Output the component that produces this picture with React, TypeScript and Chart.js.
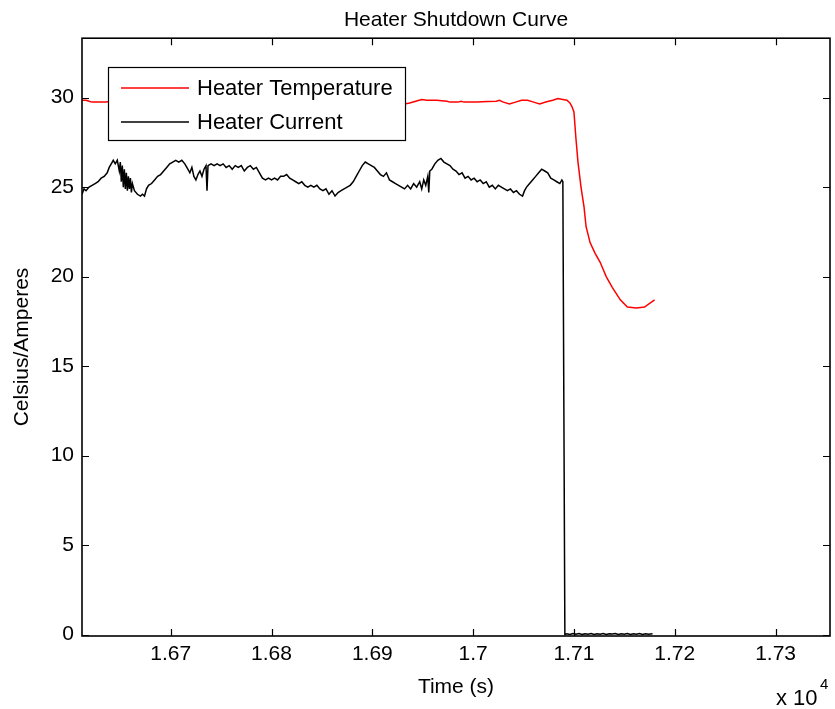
import React, { useEffect, useRef } from 'react';
import { Chart, registerables } from 'chart.js';

Chart.register(...registerables);

const chartTitle = 'Heater Shutdown Curve';
const xAxisTitle = 'Time (s)';
const yAxisTitle = 'Celsius/Amperes';
const seriesLabels = ['Heater Temperature', 'Heater Current'];
const seriesColors = ['#ff0000', '#000000'];

const xTickValues = [16700, 16800, 16900, 17000, 17100, 17200, 17300];
const xTickLabels = ['1.67', '1.68', '1.69', '1.7', '1.71', '1.72', '1.73'];
const yTickValues = [0, 5, 10, 15, 20, 25, 30];
const xExponentBase = 'x 10';
const xExponent = '4';

const X_MIN = 16612;
const X_MAX = 17354;
const Y_MIN = -0.08;
const Y_MAX = 33.32;

const tempTimes = [
  16612, 16616, 16619, 16622, 16636, 16640, 16660, 16680, 16700, 16720,
  16740, 16760, 16780, 16800, 16820, 16840, 16860, 16880, 16900, 16920,
  16932, 16937, 16943, 16949, 16954, 16964, 16974, 16977, 16985, 16988,
  16991, 17004, 17014, 17023, 17026, 17030, 17036, 17042, 17048, 17054,
  17060, 17066, 17072, 17079, 17084, 17089, 17093, 17096, 17098, 17100,
  17102, 17104, 17107, 17110, 17112, 17116, 17121, 17126, 17132, 17138,
  17146, 17153, 17162, 17170, 17180,
];
const tempValues = [
  29.85, 29.85, 29.8, 29.75, 29.75, 29.8, 29.8, 29.85, 29.8, 29.8,
  29.85, 29.8, 29.8, 29.85, 29.8, 29.8, 29.75, 29.75, 29.75, 29.7,
  29.65, 29.7, 29.8, 29.9, 29.85, 29.85, 29.8, 29.75, 29.75, 29.8,
  29.75, 29.75, 29.78, 29.8, 29.85, 29.75, 29.65, 29.75, 29.85, 29.85,
  29.75, 29.65, 29.75, 29.85, 29.95, 29.9, 29.85, 29.7, 29.5, 29.2,
  27.7, 26.4, 25.0, 23.9, 22.8, 21.9, 21.3, 20.8, 20.0, 19.4,
  18.7, 18.3, 18.25, 18.3, 18.7,
];

const currentTimes = [
  16612, 16614, 16616, 16619, 16622, 16625, 16628, 16631, 16634, 16637,
  16639, 16641, 16643, 16645, 16647, 16649, 16650, 16651, 16652, 16653,
  16654, 16655, 16656, 16657, 16658, 16659, 16660, 16661, 16662, 16664,
  16667, 16670, 16672, 16674, 16676, 16678, 16681, 16684, 16687, 16690,
  16693, 16696, 16699, 16702, 16705, 16708, 16711, 16714, 16717, 16719,
  16721, 16723, 16725, 16727, 16729, 16731, 16733, 16735, 16736, 16737,
  16740, 16743, 16746, 16749, 16752, 16755, 16758, 16761, 16764, 16767,
  16770, 16773, 16776, 16779, 16782, 16785, 16788, 16791, 16794, 16797,
  16800, 16803, 16806, 16809, 16812, 16815, 16818, 16821, 16824, 16827,
  16830, 16833, 16836, 16839, 16842, 16845, 16848, 16851, 16854, 16857,
  16860, 16863, 16866, 16869, 16872, 16875, 16878, 16881, 16884, 16887,
  16890, 16893, 16896, 16899, 16902, 16905, 16908, 16911, 16914, 16917,
  16920, 16923, 16926, 16929, 16932, 16935, 16938, 16941, 16944, 16947,
  16949, 16951, 16953, 16955, 16956, 16957, 16959, 16962, 16965, 16968,
  16971, 16974, 16977, 16980, 16983, 16986, 16989, 16992, 16995, 16998,
  17001, 17004, 17007, 17010, 17013, 17016, 17019, 17022, 17025, 17028,
  17031, 17034, 17037, 17040, 17043, 17046, 17049, 17051, 17053, 17056,
  17059, 17062, 17065, 17068, 17071, 17074, 17077, 17080, 17083, 17086,
  17088, 17089, 17090, 17091, 17093, 17096, 17099, 17102, 17105, 17108,
  17111, 17114, 17117, 17120, 17123, 17126, 17129, 17132, 17135, 17138,
  17141, 17144, 17147, 17150, 17153, 17156, 17159, 17162, 17165, 17168,
  17171, 17174, 17178,
];
const currentValues = [
  24.6, 24.9, 24.8, 25.0, 25.1, 25.2, 25.3, 25.5, 25.6, 25.8,
  26.1, 26.3, 26.5, 26.3, 26.5, 25.9, 26.4, 25.3, 26.2, 25.0,
  26.0, 24.9, 25.8, 24.8, 25.6, 24.9, 25.5, 24.7, 25.2, 24.8,
  24.6, 24.5, 24.6, 24.5, 24.9, 25.1, 25.2, 25.4, 25.6, 25.7,
  25.9, 26.1, 26.3, 26.4, 26.5, 26.4, 26.5, 26.3, 26.0, 25.8,
  26.1, 25.6, 25.4, 25.7, 25.9, 25.6, 26.0, 26.2, 24.8, 26.2,
  26.3, 26.2, 26.3, 26.2, 26.3, 26.1, 26.2, 26.0, 26.2, 26.1,
  26.2, 25.9, 26.1, 26.2, 26.0, 26.1, 25.8, 25.5, 25.4, 25.5,
  25.4, 25.5, 25.4, 25.6, 25.6, 25.7, 25.5, 25.4, 25.3, 25.2,
  25.3, 25.1, 25.0, 25.1, 25.0, 25.1, 24.9, 24.8, 24.9, 24.6,
  24.8, 24.5, 24.7, 24.8, 24.9, 25.0, 25.1, 25.3, 25.6, 25.9,
  26.2, 26.4, 26.3, 26.2, 26.1, 25.9, 25.7, 25.6, 25.8, 25.4,
  25.3, 25.2, 25.1, 25.0, 24.9, 25.1, 24.9, 25.2, 25.0, 25.3,
  24.9, 25.4, 25.1, 25.6, 24.7, 25.9, 26.0, 26.3, 26.5, 26.6,
  26.4, 26.3, 26.2, 26.0, 25.9, 25.7, 25.8, 25.5, 25.6, 25.4,
  25.5, 25.3, 25.4, 25.2, 25.3, 25.0, 25.1, 24.9, 25.1, 25.0,
  24.9, 24.8, 24.9, 24.7, 24.8, 24.6, 24.5, 24.8, 25.0, 25.2,
  25.4, 25.6, 25.8, 26.0, 25.9, 25.8, 25.5, 25.4, 25.3, 25.2,
  25.4, 25.3, 12.7, 0.0, 0.05, 0.0, 0.06, 0.02, 0.06, 0.0,
  0.05, 0.02, 0.06, 0.0, 0.05, 0.02, 0.06, 0.0, 0.05, 0.03,
  0.06, 0.0, 0.05, 0.02, 0.06, 0.0, 0.05, 0.02, 0.06, 0.0,
  0.05, 0.02, 0.04,
];

const FONT = "'Liberation Sans', Arial, Helvetica, sans-serif";

const matlabFrame = {
  id: 'matlabFrame',
  afterDatasetsDraw(chart: any) {
    const { ctx, chartArea: a, scales } = chart;
    const xs = scales.x;
    const ys = scales.y;
    ctx.save();
    ctx.strokeStyle = '#000';
    ctx.lineWidth = 1.6;
    ctx.strokeRect(a.left, a.top, a.right - a.left, a.bottom - a.top);
    const L = 7;
    ctx.lineWidth = 1.2;
    ctx.beginPath();
    xTickValues.forEach((v) => {
      const px = Math.round(xs.getPixelForValue(v)) + 0.5;
      ctx.moveTo(px, a.bottom);
      ctx.lineTo(px, a.bottom - L);
      ctx.moveTo(px, a.top);
      ctx.lineTo(px, a.top + L);
    });
    yTickValues.forEach((v) => {
      const py = Math.round(ys.getPixelForValue(v)) + 0.5;
      ctx.moveTo(a.left, py);
      ctx.lineTo(a.left + L, py);
      ctx.moveTo(a.right, py);
      ctx.lineTo(a.right - L, py);
    });
    ctx.stroke();

    // legend box
    const bx = 108, by = 67, bw = 297, bh = 73;
    ctx.fillStyle = '#fff';
    ctx.fillRect(bx, by, bw, bh);
    ctx.strokeStyle = '#000';
    ctx.lineWidth = 1.2;
    ctx.strokeRect(bx + 0.5, by + 0.5, bw, bh);
    ctx.font = `22px ${FONT}`;
    ctx.textBaseline = 'middle';
    ctx.textAlign = 'left';
    chart.data.datasets.forEach((ds: any, i: number) => {
      const ry = by + 21 + i * 34;
      ctx.strokeStyle = ds.borderColor;
      ctx.lineWidth = 1.5;
      ctx.beginPath();
      ctx.moveTo(bx + 13, ry);
      ctx.lineTo(bx + 81, ry);
      ctx.stroke();
      ctx.fillStyle = '#000';
      ctx.fillText(ds.label, bx + 89, ry + 1);
    });

    // y axis title (MATLAB places it slightly below the axis centre)
    ctx.save();
    ctx.translate(22, 347);
    ctx.rotate(-Math.PI / 2);
    ctx.textAlign = 'center';
    ctx.textBaseline = 'middle';
    ctx.font = `21px ${FONT}`;
    ctx.fillStyle = '#000';
    ctx.fillText(yAxisTitle, 0, 0);
    ctx.restore();

    // exponent label
    ctx.fillStyle = '#000';
    ctx.textAlign = 'left';
    ctx.textBaseline = 'alphabetic';
    ctx.font = `22px ${FONT}`;
    ctx.fillText(xExponentBase, 776, 705);
    ctx.font = `15px ${FONT}`;
    ctx.fillText(xExponent, 820, 689);
    ctx.restore();
  },
};

export default function App() {
  const ref = useRef<HTMLCanvasElement | null>(null);
  useEffect(() => {
    if (!ref.current) return;
    const tempData = tempTimes.map((t, i) => ({ x: t, y: tempValues[i] }));
    const currentData = currentTimes.map((t, i) => ({ x: t, y: currentValues[i] }));
    const chart = new Chart(ref.current, {
      type: 'line',
      data: {
        datasets: [
          {
            label: seriesLabels[0],
            data: tempData,
            borderColor: seriesColors[0],
            backgroundColor: seriesColors[0],
            borderWidth: 1.5,
            pointRadius: 0,
            tension: 0,
            fill: false,
          },
          {
            label: seriesLabels[1],
            data: currentData,
            borderColor: seriesColors[1],
            backgroundColor: seriesColors[1],
            borderWidth: 1.5,
            pointRadius: 0,
            tension: 0,
            fill: false,
          },
        ],
      },
      options: {
        animation: false,
        responsive: false,
        devicePixelRatio: 1,
        layout: { padding: { top: 0, right: 5, left: 0, bottom: 0 } },
        plugins: {
          legend: { display: false },
          tooltip: { enabled: false },
          title: {
            display: true,
            text: chartTitle,
            fullSize: false,
            color: '#000',
            font: { family: FONT, size: 21, weight: 'normal' },
            padding: { top: 8, bottom: 5 },
          },
        },
        scales: {
          x: {
            type: 'linear',
            min: X_MIN,
            max: X_MAX,
            afterBuildTicks: (s: any) => {
              s.ticks = xTickValues.map((v) => ({ value: v }));
            },
            afterFit: (s: any) => {
              s.height = 73;
            },
            ticks: {
              color: '#000',
              font: { family: FONT, size: 21 },
              padding: 6,
              maxRotation: 0,
              autoSkip: false,
              callback: (v: any) => {
                const idx = xTickValues.indexOf(Number(v));
                return idx >= 0 ? xTickLabels[idx] : '';
              },
            },
            grid: { display: false, drawTicks: false },
            border: { display: false },
            title: {
              display: true,
              text: xAxisTitle,
              color: '#000',
              font: { family: FONT, size: 21 },
              padding: { top: 0, bottom: 9 },
            },
          },
          y: {
            type: 'linear',
            min: Y_MIN,
            max: Y_MAX,
            afterBuildTicks: (s: any) => {
              s.ticks = yTickValues.map((v) => ({ value: v }));
            },
            afterFit: (s: any) => {
              s.width = 82;
            },
            ticks: {
              color: '#000',
              font: { family: FONT, size: 21 },
              padding: 8,
              autoSkip: false,
              callback: (v: any) => String(v),
            },
            grid: { display: false, drawTicks: false },
            border: { display: false },
            title: { display: false },
          },
        },
      },
      plugins: [matlabFrame],
    } as any);
    return () => chart.destroy();
  }, []);

  return (
    <div style={{ position: 'absolute', left: 0, top: 0, width: 835, height: 709, background: '#fff' }}>
      <canvas ref={ref} width={835} height={709} />
    </div>
  );
}
